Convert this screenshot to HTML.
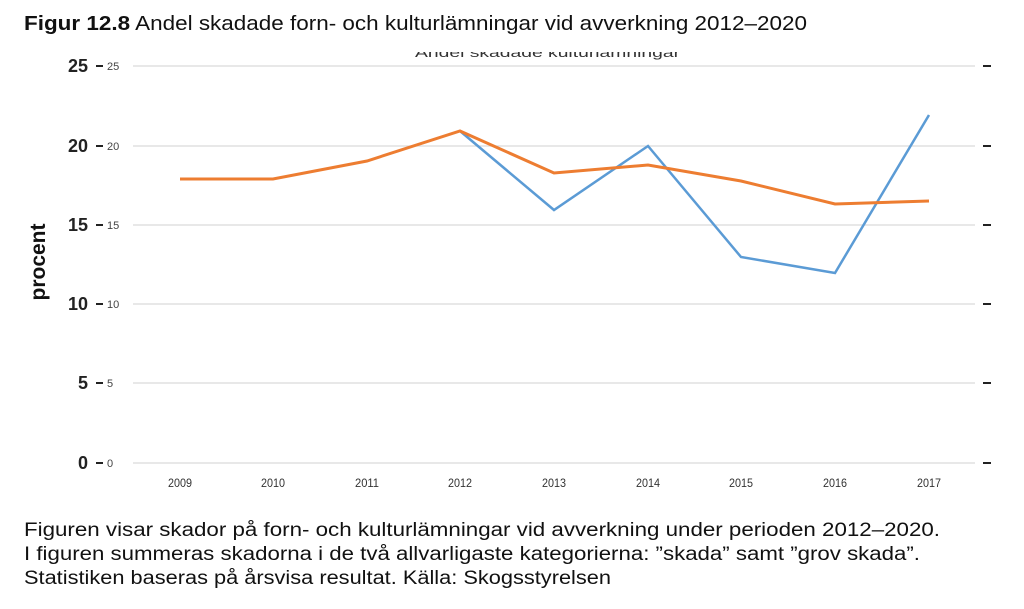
<!DOCTYPE html>
<html><head><meta charset="utf-8"><style>
html,body{margin:0;padding:0;background:#fff;width:1024px;height:609px;overflow:hidden}
svg{display:block}
</style></head><body>
<svg width="1024" height="609" xmlns="http://www.w3.org/2000/svg" font-family="Liberation Sans, sans-serif">
<defs><clipPath id="c"><rect x="400" y="52" width="300" height="8"/></clipPath></defs>
<text x="24" y="30" font-size="20" fill="#111" textLength="783" lengthAdjust="spacingAndGlyphs"><tspan font-weight="bold">Figur 12.8</tspan> Andel skadade forn- och kulturlämningar vid avverkning 2012–2020</text>
<text x="415" y="57" font-size="13" fill="#333" clip-path="url(#c)" textLength="265" lengthAdjust="spacingAndGlyphs">Andel skadade kulturlämningar</text>
<g stroke="#d9d9d9" stroke-width="1.3">
<line x1="133" x2="975" y1="66" y2="66"/><line x1="133" x2="975" y1="146" y2="146"/>
<line x1="133" x2="975" y1="225" y2="225"/><line x1="133" x2="975" y1="304" y2="304"/>
<line x1="133" x2="975" y1="383" y2="383"/><line x1="133" x2="975" y1="463" y2="463"/>
</g>
<g stroke="#222" stroke-width="2">
<line x1="96" x2="103" y1="66" y2="66"/><line x1="96" x2="103" y1="146" y2="146"/>
<line x1="96" x2="103" y1="225" y2="225"/><line x1="96" x2="103" y1="304" y2="304"/>
<line x1="96" x2="103" y1="383" y2="383"/><line x1="96" x2="103" y1="463" y2="463"/>
<line x1="983" x2="991" y1="66" y2="66"/><line x1="983" x2="991" y1="146" y2="146"/>
<line x1="983" x2="991" y1="225" y2="225"/><line x1="983" x2="991" y1="304" y2="304"/>
<line x1="983" x2="991" y1="383" y2="383"/><line x1="983" x2="991" y1="463" y2="463"/>
</g>
<g font-size="18" font-weight="bold" fill="#222" text-anchor="end">
<text x="88" y="72">25</text><text x="88" y="152">20</text><text x="88" y="231">15</text>
<text x="88" y="310">10</text><text x="88" y="389">5</text><text x="88" y="469">0</text>
</g>
<g font-size="11" fill="#444">
<text x="107" y="70">25</text><text x="107" y="150">20</text><text x="107" y="229">15</text>
<text x="107" y="308">10</text><text x="107" y="387">5</text><text x="107" y="467">0</text>
</g>
<text transform="translate(45,262) rotate(-90)" font-size="21" font-weight="bold" text-anchor="middle" fill="#111">procent</text>
<g font-size="12" fill="#333" text-anchor="middle">
<text x="180" y="487" textLength="24" lengthAdjust="spacingAndGlyphs">2009</text><text x="273" y="487" textLength="24" lengthAdjust="spacingAndGlyphs">2010</text><text x="367" y="487" textLength="24" lengthAdjust="spacingAndGlyphs">2011</text>
<text x="460" y="487" textLength="24" lengthAdjust="spacingAndGlyphs">2012</text><text x="554" y="487" textLength="24" lengthAdjust="spacingAndGlyphs">2013</text><text x="648" y="487" textLength="24" lengthAdjust="spacingAndGlyphs">2014</text>
<text x="741" y="487" textLength="24" lengthAdjust="spacingAndGlyphs">2015</text><text x="835" y="487" textLength="24" lengthAdjust="spacingAndGlyphs">2016</text><text x="929" y="487" textLength="24" lengthAdjust="spacingAndGlyphs">2017</text>
</g>
<polyline fill="none" stroke="#5b9bd5" stroke-width="2.5" points="460,131 554,210 648,146 741,257 835,273 929,115"/>
<polyline fill="none" stroke="#ed7d31" stroke-width="3" points="180,179 273,179 367,161 460,131 554,173 648,165 741,181 835,204 929,201"/>
<g font-size="19" fill="#111">
<text x="24" y="536" textLength="916" lengthAdjust="spacingAndGlyphs">Figuren visar skador på forn- och kulturlämningar vid avverkning under perioden 2012–2020.</text>
<text x="24" y="560" textLength="896" lengthAdjust="spacingAndGlyphs">I figuren summeras skadorna i de två allvarligaste kategorierna: ”skada” samt ”grov skada”.</text>
<text x="24" y="584" textLength="587" lengthAdjust="spacingAndGlyphs">Statistiken baseras på årsvisa resultat. Källa: Skogsstyrelsen</text>
</g>
</svg>
</body></html>
